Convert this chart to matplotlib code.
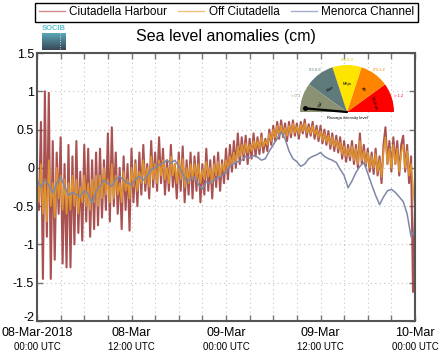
import numpy as np
import matplotlib
matplotlib.use("Agg")
import matplotlib.pyplot as plt
import matplotlib.patches as patches
from matplotlib.lines import Line2D

plt.rcParams['font.family'] = ['Liberation Sans', 'DejaVu Sans']

# sea level anomalies (m), 08-Mar-2018 00:00 -> 10-Mar-2018 00:00 UTC
# harbour and off-ciutadella every 15 min, channel every 30 min
harbour = [
    -0.2, -0.55, 0.6, -1.45, 1.0, -0.9, 0.98, -1.45, 0.35, -1.2, 0.2, -0.6, 0.4, -1.25, 0.05, -1.3,
    0.3, -1.3, 0.15, -1.0, 0.35, -0.85, -0.05, -0.95, 0.3, -0.7, 0.25, -0.9, 0.1, -0.8, 0.2, -0.75,
    0.25, -0.65, 0.1, -0.55, 0.45, -0.7, 0.53, -0.5, 0.2, -0.6, 0.0, -0.8, 0.15, -0.55, 0.05, -0.82,
    0.25, -0.45, 0.1, -0.5, 0.2, -0.35, 0.3, -0.3, 0.05, -0.4, 0.35, -0.25, 0.2, -0.3, 0.4, -0.2,
    0.25, -0.35, 0.1, -0.3, 0.3, -0.25, 0.05, -0.4, 0.2, -0.3, 0.28, -0.45, 0.1, -0.35, 0.2, -0.4,
    0.15, -0.3, 0.2, -0.45, 0.05, -0.35, 0.25, -0.3, 0.1, -0.4, 0.15, -0.25, 0.2, -0.3, 0.1, -0.2,
    0.25, -0.15, 0.3, -0.05, 0.35, 0.0, 0.45, 0.05, 0.4, 0.1, 0.42, 0.05, 0.38, 0.12, 0.45, 0.15,
    0.4, 0.18, 0.45, 0.2, 0.38, 0.22, 0.5, 0.3, 0.55, 0.35, 0.6, 0.38, 0.62, 0.4, 0.58, 0.35,
    0.6, 0.4, 0.62, 0.42, 0.58, 0.38, 0.6, 0.45, 0.63, 0.4, 0.57, 0.42, 0.6, 0.38, 0.55, 0.35,
    0.55, 0.32, 0.5, 0.3, 0.48, 0.25, 0.45, 0.22, 0.42, 0.2, 0.4, 0.12, 0.35, 0.08, 0.3, 0.1,
    0.35, 0.05, 0.3, 0.0, 0.45, 0.05, 0.3, 0.02, 0.25, -0.05, 0.2, -0.08, 0.25, -0.1, 0.15, -0.2,
    0.3, 0.53, 0.05, 0.35, -0.05, 0.4, 0.05, 0.35, -0.1, 0.3, 0.42, -0.05, 0.3, -0.2, 0.15, -1.62,
    -0.5,
]
off_ciutadella = [
    -0.1, -0.45, 0.05, -0.6, -0.15, -0.7, 0.1, -0.5, -0.2, -0.65, 0.0, -0.4, -0.1, -0.55, -0.15, -0.6,
    -0.2, -0.55, -0.1, -0.5, -0.15, -0.6, -0.25, -0.45, -0.1, -0.5, -0.2, -0.55, -0.15, -0.45, -0.1, -0.5,
    -0.1, -0.4, 0.0, -0.35, -0.15, -0.45, 0.05, -0.4, -0.1, -0.35, -0.2, -0.45, -0.05, -0.3, -0.15, -0.4,
    0.0, -0.25, 0.05, -0.3, -0.05, -0.2, 0.1, -0.2, 0.0, -0.25, 0.15, -0.15, 0.05, -0.2, 0.1, -0.1,
    0.1, -0.15, 0.0, -0.2, 0.15, -0.1, 0.05, -0.2, 0.1, -0.15, 0.12, -0.25, 0.0, -0.2, 0.05, -0.15,
    0.05, -0.15, 0.05, -0.2, -0.02, -0.15, 0.08, -0.12, 0.0, -0.2, 0.05, -0.1, 0.08, -0.12, 0.05, -0.05,
    0.1, 0.0, 0.15, 0.05, 0.2, 0.08, 0.28, 0.15, 0.3, 0.18, 0.32, 0.2, 0.3, 0.22, 0.35, 0.25,
    0.35, 0.25, 0.4, 0.28, 0.35, 0.3, 0.45, 0.35, 0.5, 0.4, 0.55, 0.42, 0.55, 0.45, 0.52, 0.42,
    0.55, 0.45, 0.58, 0.46, 0.54, 0.44, 0.56, 0.48, 0.58, 0.46, 0.53, 0.45, 0.55, 0.44, 0.5, 0.4,
    0.48, 0.36, 0.45, 0.34, 0.42, 0.3, 0.4, 0.28, 0.36, 0.25, 0.33, 0.18, 0.28, 0.15, 0.25, 0.15,
    0.28, 0.1, 0.25, 0.05, 0.35, 0.1, 0.22, 0.05, 0.2, 0.0, 0.15, 0.0, 0.18, -0.05, 0.1, -0.12,
    0.2, 0.4, 0.05, 0.25, 0.0, 0.3, 0.05, 0.25, -0.05, 0.2, 0.3, 0.0, 0.22, -0.1, 0.05, -0.25,
    -0.55,
]
menorca_channel = [
    -0.15, -0.25, -0.16, -0.22, -0.33, -0.2, -0.12, -0.24, -0.36, -0.32, -0.35, -0.37, -0.3, -0.34, -0.46, -0.3,
    -0.24, -0.16, -0.2, -0.24, -0.15, -0.11, -0.16, -0.2, -0.22, -0.15, -0.11, -0.16, -0.1, -0.02, 0.0, 0.04,
    0.06, 0.1, 0.06, 0.1, 0.02, -0.08, -0.18, -0.14, -0.12, -0.22, -0.28, -0.18, -0.2, -0.16, -0.13, -0.1,
    -0.06, 0.02, 0.06, 0.08, 0.1, 0.15, 0.13, 0.16, 0.14, 0.1, 0.12, 0.22, 0.3, 0.38, 0.47, 0.38,
    0.22, 0.12, 0.08, 0.02, 0.05, 0.12, 0.15, 0.17, 0.2, 0.15, 0.12, 0.1, 0.07, -0.02, -0.1, -0.26,
    -0.17, -0.06, 0.02, 0.07, -0.07, -0.22, -0.36, -0.48, -0.38, -0.3, -0.28, -0.32, -0.38, -0.44, -0.6, -0.9,
    -0.8,
]
series_names = ['Ciutadella Harbour', 'Off Ciutadella', 'Menorca Channel']

tick_hours = [0, 12, 24, 36, 48]
tick_dates = ['08-Mar-2018', '08-Mar', '09-Mar', '09-Mar', '10-Mar']
tick_times = ['00:00 UTC', '12:00 UTC', '00:00 UTC', '12:00 UTC', '00:00 UTC']
y_ticks = [-2, -1.5, -1, -0.5, 0, 0.5, 1, 1.5]
y_labels = ['-2', '-1.5', '-1', '-0.5', '0', '0.5', '1', '1.5']

gauge_colors = ['#ff0000', '#ff8400', '#ffe400', '#5f7a7a', '#8b9173']
gauge_labels = ['> 1.2', '0.9-1.2', '0.6-0.9', '0.3-0.6', '< 0.3']
gauge_names = ['Molt alt', 'Alt', 'Mitja', 'Baix', 'Nul']
needle_angle = 175

fig = plt.figure(figsize=(4.44, 3.59), dpi=100)
ax = fig.add_axes([37/444, 1-321/359, 378/444, 268/359])

t_h = np.linspace(0, 48, len(harbour))
t_o = np.linspace(0, 48, len(off_ciutadella))
t_m = np.linspace(0, 48, len(menorca_channel))
ax.plot(t_h, harbour, color='#9b3434', lw=1.5, alpha=0.85)
ax.plot(t_o, off_ciutadella, color='#e3992c', lw=1.2, alpha=0.9)
ax.plot(t_m, menorca_channel, color='#7f87a8', lw=1.1)

ax.set_xlim(0, 48)
ax.set_ylim(-2, 1.5)
ax.set_xticks(np.arange(0, 49, 3))
xl = []
for h in np.arange(0, 49, 3):
    xl.append(tick_dates[tick_hours.index(h)] if h in tick_hours else '')
ax.set_xticklabels(xl, fontsize=9)
for h, s in zip(tick_hours, tick_times):
    ax.text(h, -0.077, s, transform=ax.get_xaxis_transform(), ha='center', va='top', fontsize=7)
ax.set_yticks(y_ticks)
ax.set_yticklabels(y_labels, fontsize=9)
ax.get_yticklabels()[0].set_va('baseline')
ax.tick_params(direction='in', top=True, right=True, length=4, width=1, color='#777777', pad=2)
ax.tick_params(axis='x', pad=4)
ax.grid(True, color='#c4c4c4', lw=0.8, linestyle=(0, (1, 3)))
for sp in ax.spines.values():
    sp.set_color('#555555')
    sp.set_linewidth(1.5)

ax.set_title('Sea level anomalies (cm)', fontsize=11.5, pad=9)

handles = [Line2D([], [], color='#d58a8a', lw=1),
           Line2D([], [], color='#f1c07a', lw=1),
           Line2D([], [], color='#a8add1', lw=1)]
fig.legend(handles, series_names, loc='lower left', ncol=3, mode='expand',
           bbox_to_anchor=(35/444, 1-22/359, 383/444, 20/359), borderaxespad=0,
           fontsize=8.5, fancybox=False, edgecolor='black', framealpha=1,
           handlelength=2.2, handletextpad=0.4, borderpad=0.3)

# rissaga gauge
gax = fig.add_axes([287/444, 1-128/359, 120/444, 70/359])
gax.set_xlim(-1.277, 1.277)
gax.set_ylim(-0.34, 1.149)
gax.axis('off')
for i, c in enumerate(gauge_colors):
    gax.add_patch(patches.Wedge((0, 0), 1, i*36, (i+1)*36, facecolor=c, edgecolor='none'))
    a = np.radians(i*36 + 18)
    gax.text(1.15*np.cos(a), 1.1*np.sin(a), gauge_labels[i], color=c if c != '#ffe400' else '#e0c800',
             fontsize=3, ha='center', va='center')
    gax.text(0.6*np.cos(a), 0.6*np.sin(a), gauge_names[i], fontsize=3, ha='center', va='center',
             rotation=i*36 + 18 - 90)
na = np.radians(needle_angle)
gax.plot([0, 0.9*np.cos(na)], [0, 0.9*np.sin(na)], color='black', lw=1.6, solid_capstyle='round')
gax.plot([0.9*np.cos(na)], [0.9*np.sin(na)], 'o', color='black', ms=2.5)
gax.text(0, -0.13, 'Rissaga intensity level', fontsize=3, ha='center', va='center')

# logo
lax = fig.add_axes([42/444, 1-50/359, 24/444, 17/359])
grad = np.linspace(0, 1, 20).reshape(-1, 1)
lax.imshow(grad, aspect='auto', cmap=matplotlib.colors.LinearSegmentedColormap.from_list('g', ['#5aa6b6', '#3a4858']))
lax.plot([0.25, 0.25], [-0.5, 19.5], color='white', lw=0.6, linestyle=(0, (1, 2)))
lax.set_xlim(-0.5, 0.5)
lax.set_ylim(19.5, -0.5)
lax.axis('off')
fig.text(54/444, 1-29/359, 'SOCIB', color='#5cc2d2', fontsize=5.5, fontweight='bold', ha='center', va='center')

fig.savefig('out.png', dpi=100)
